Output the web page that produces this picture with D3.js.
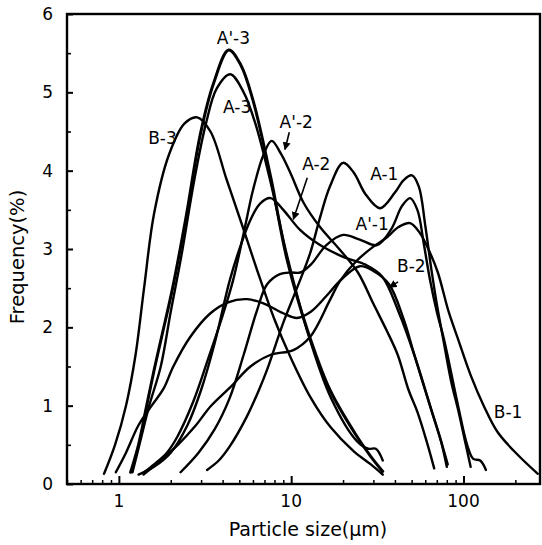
<!DOCTYPE html>
<html lang="en">
<head>
<meta charset="UTF-8">
<title>Particle size distribution</title>
<script src="https://d3js.org/d3.v7.min.js"></script>
<style>
    body { margin: 0; background: #fff; }
    text { font-family: "DejaVu Sans", sans-serif; fill: #000; }
    .curve { fill: none; stroke: #000; stroke-linejoin: round; stroke-linecap: round; }
</style>
</head>
<body>
<div id="chart"></div>
<script>
    // particle size (um), frequency (%)
    const a1 = [[3.25,0.18],[3.8,0.3],[4.4,0.48],[5.5,0.85],[6.5,1.2],[7.25,1.46],[9,2.06],[10.8,2.5],[12.9,2.95],[14.7,3.4],[16.8,3.8],[20,4.1],[23,3.98],[27,3.7],[32.8,3.52],[40,3.72],[45,3.88],[50.2,3.94],[55,3.8],[60,3.3],[65,2.75],[70,2.3],[77,1.8],[85,1.3],[93,0.95],[102,0.55],[110,0.22]];
    const a2 = [[1.3,0.12],[1.6,0.22],[2.0,0.4],[2.5,0.75],[3.0,1.2],[3.6,1.8],[4.4,2.6],[5.1,3.05],[5.8,3.37],[6.6,3.58],[7.6,3.65],[9,3.5],[11.3,3.24],[14.7,3.05],[20,2.9],[27,2.8],[33.7,2.65],[42,2.2],[51.8,1.65],[65,0.95],[74,0.55],[81,0.25]];
    const a3 = [[1.2,0.15],[1.35,0.6],[1.5,1.0],[1.75,1.5],[2.0,2.2],[2.3,2.9],[2.75,3.9],[3.2,4.6],[3.7,5.05],[4.43,5.23],[5.3,5.0],[6.2,4.6],[7.6,3.85],[9.5,2.9],[12.4,1.95],[17,1.1],[24,0.55],[28,0.45],[31,0.45],[34,0.3]];
    const ap1 = [[2.28,0.15],[2.9,0.4],[3.6,0.7],[4.4,1.1],[5.3,1.65],[6.3,2.2],[7.25,2.55],[8.6,2.68],[10,2.7],[11.3,2.7],[13,2.8],[16,3.05],[20,3.18],[25,3.12],[31.5,3.05],[38,3.25],[44,3.55],[49,3.65],[54,3.5],[59,3.05],[64,2.6],[70,2.2],[77,1.85],[93,1.0],[105,0.5],[114,0.32],[125,0.3],[135,0.18]];
    const ap2 = [[1.4,0.15],[1.6,0.25],[1.9,0.4],[2.18,0.6],[2.7,1.05],[3.3,1.6],[4.0,2.15],[4.6,2.6],[5.3,3.2],[6.0,3.75],[6.9,4.2],[7.7,4.38],[8.7,4.22],[9.9,3.97],[11.8,3.59],[14.7,3.28],[19,3.0],[24.4,2.7],[30,2.3],[36,1.95],[41.5,1.65],[48,1.2],[54,0.92],[61,0.55],[67.6,0.2]];
    const ap3 = [[1.17,0.15],[1.3,0.5],[1.45,1.0],[1.6,1.45],[1.78,1.9],[2.05,2.5],[2.45,3.4],[2.98,4.48],[3.55,5.12],[4.34,5.54],[5.1,5.35],[6.0,4.9],[7.6,3.92],[9.5,2.85],[12.4,1.97],[16.8,1.2],[24.2,0.6],[29,0.35],[34,0.16]];
    const b1 = [[1.39,0.12],[1.7,0.28],[2.2,0.5],[2.8,0.75],[3.4,0.99],[4.5,1.25],[5.8,1.5],[7.6,1.65],[10.3,1.71],[12.9,1.88],[16.8,2.35],[19.3,2.6],[24,2.85],[30,3.03],[36,3.15],[42,3.28],[49,3.33],[56,3.2],[64,2.95],[71,2.7],[82,2.2],[93,1.85],[110,1.39],[131,1.0],[158,0.66],[207,0.37],[270,0.13]];
    const b2 = [[0.96,0.15],[1.1,0.4],[1.3,0.75],[1.55,1.0],[1.82,1.22],[2.07,1.5],[2.6,1.88],[3.4,2.18],[4.3,2.32],[5.55,2.36],[7,2.3],[9,2.18],[10.8,2.12],[13,2.2],[16,2.4],[19.3,2.6],[25,2.78],[30,2.72],[37,2.55],[45,2.1],[51.8,1.65],[65,0.95],[74,0.55],[80,0.22]];
    const b3 = [[0.82,0.13],[0.95,0.5],[1.1,1.0],[1.25,1.65],[1.4,2.5],[1.6,3.45],[1.95,4.2],[2.4,4.6],[2.85,4.68],[3.4,4.5],[4.2,3.9],[5.2,3.3],[6.3,2.75],[8,2.1],[10,1.6],[13,1.1],[17,0.72],[23,0.42],[29,0.25],[34,0.12]];

    const series = [
        { name: "A-1", values: a1 }, { name: "A-2", values: a2 }, { name: "A-3", values: a3 },
        { name: "A'-1", values: ap1 }, { name: "A'-2", values: ap2 }, { name: "A'-3", values: ap3 },
        { name: "B-1", values: b1 }, { name: "B-2", values: b2 }, { name: "B-3", values: b3 }
    ];

    // curve labels: [name, size, freq] at the text centre
    const labels = [["A'-3", 4.62, 5.69], ["A-3", 4.86, 4.81], ["B-3", 1.79, 4.42], ["A'-2", 10.7, 4.62],
        ["A-2", 14.0, 4.09], ["A-1", 34.7, 3.96], ["A'-1", 29.5, 3.32], ["B-2", 49.8, 2.78], ["B-1", 181.6, 0.92]];
    // arrows: [from size, from freq, to size, to freq]
    const arrows = [[9.75, 4.49, 9.2, 4.27], [12.4, 3.91, 10.3, 3.38], [41.7, 2.58, 37.2, 2.51]];

    const yTicks = [0, 1, 2, 3, 4, 5, 6];
    const xTicks = [1, 10, 100];

    const width = 542, height = 545;
    const margin = { top: 14, right: 2, bottom: 61, left: 67 };

    const svg = d3.select("#chart").append("svg")
        .attr("width", width)
        .attr("height", height);

    const x = d3.scaleLog()
        .domain([0.5, 278])
        .range([margin.left, width - margin.right]);

    const y = d3.scaleLinear()
        .domain([0, 6])
        .range([height - margin.bottom, margin.top]);

    // frame
    svg.append("rect")
        .attr("x", margin.left)
        .attr("y", margin.top)
        .attr("width", width - margin.left - margin.right)
        .attr("height", height - margin.top - margin.bottom)
        .attr("fill", "none")
        .attr("stroke", "#000")
        .attr("stroke-width", 2.4);

    // y axis with inward ticks
    svg.append("g")
        .attr("transform", `translate(${margin.left},0)`)
        .call(d3.axisRight(y).tickValues(yTicks).tickSize(6).tickFormat(""))
        .call(g => g.select(".domain").remove())
        .selectAll("line").attr("stroke-width", 2);
    svg.append("g")
        .attr("transform", `translate(${margin.left},0)`)
        .call(d3.axisRight(y).tickValues(d3.range(0.5, 6, 1)).tickSize(4).tickFormat(""))
        .call(g => g.select(".domain").remove())
        .selectAll("line").attr("stroke-width", 1.6);
    svg.append("g").selectAll("text")
        .data(yTicks)
        .enter().append("text")
        .attr("x", margin.left - 14)
        .attr("y", d => y(d))
        .attr("dy", "0.36em")
        .attr("text-anchor", "end")
        .attr("font-size", 17)
        .text(d => d);

    // x axis with inward ticks
    const minor = [];
    [0.1, 1, 10, 100].forEach(p => d3.range(2, 10).forEach(k => {
        const v = p * k;
        if (v >= 0.5 && v <= 278) minor.push(v);
    }));
    svg.append("g")
        .attr("transform", `translate(0,${height - margin.bottom})`)
        .call(d3.axisTop(x).tickValues(xTicks).tickSize(8).tickFormat(""))
        .call(g => g.select(".domain").remove())
        .selectAll("line").attr("stroke-width", 2);
    svg.append("g")
        .attr("transform", `translate(0,${height - margin.bottom})`)
        .call(d3.axisTop(x).tickValues(minor).tickSize(4).tickFormat(""))
        .call(g => g.select(".domain").remove())
        .selectAll("line").attr("stroke-width", 1.5);
    svg.append("g").selectAll("text")
        .data(xTicks)
        .enter().append("text")
        .attr("x", d => x(d))
        .attr("y", height - margin.bottom + 23)
        .attr("text-anchor", "middle")
        .attr("font-size", 17)
        .text(d => d);

    // axis titles
    svg.append("text")
        .attr("transform", "translate(24,257) rotate(-90)")
        .attr("text-anchor", "middle")
        .attr("font-size", 19.5)
        .text("Frequency(%)");
    svg.append("text")
        .attr("x", 308)
        .attr("y", 536)
        .attr("text-anchor", "middle")
        .attr("font-size", 19)
        .text("Particle size(\u03bcm)");

    // curves
    const line = d3.line()
        .x(d => x(d[0]))
        .y(d => y(d[1]))
        .curve(d3.curveCatmullRom.alpha(0.5));

    svg.append("g")
        .selectAll("path")
        .data(series)
        .enter().append("path")
        .attr("class", "curve")
        .attr("stroke-width", d => d.name === "A'-3" ? 3 : 2.4)
        .attr("d", d => line(d.values));

    // labels
    svg.append("g").selectAll("text")
        .data(labels)
        .enter().append("text")
        .attr("x", d => x(d[1]))
        .attr("y", d => y(d[2]))
        .attr("dy", "0.36em")
        .attr("text-anchor", "middle")
        .attr("font-size", 17)
        .text(d => d[0]);

    // arrows
    svg.append("defs").append("marker")
        .attr("id", "head")
        .attr("viewBox", "0 0 10 10")
        .attr("refX", 9).attr("refY", 5)
        .attr("markerWidth", 5).attr("markerHeight", 5)
        .attr("orient", "auto")
        .append("path").attr("d", "M0,0L10,5L0,10Z").attr("fill", "#000");
    svg.append("g").selectAll("line")
        .data(arrows)
        .enter().append("line")
        .attr("x1", d => x(d[0])).attr("y1", d => y(d[1]))
        .attr("x2", d => x(d[2])).attr("y2", d => y(d[3]))
        .attr("stroke", "#000")
        .attr("stroke-width", 1.6)
        .attr("marker-end", "url(#head)");
</script>
</body>
</html>
